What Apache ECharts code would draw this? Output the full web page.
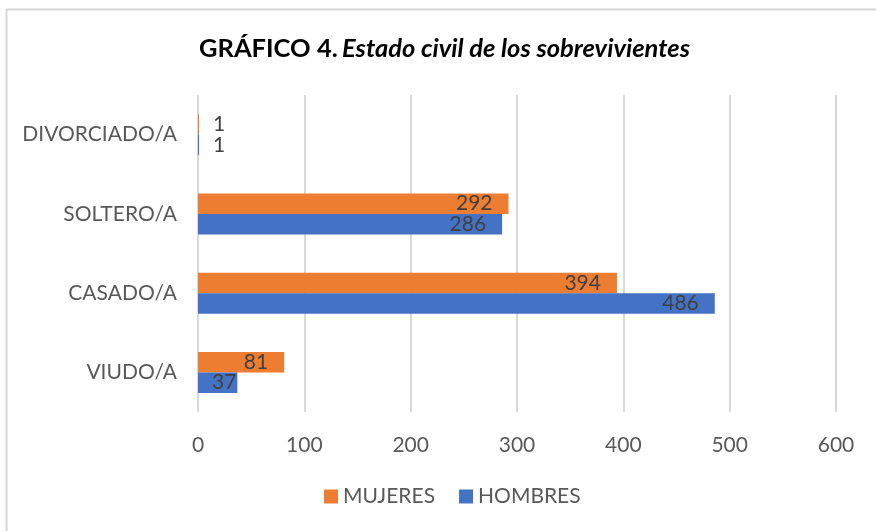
<!DOCTYPE html>
<html>
<head>
<meta charset="utf-8">
<script src="https://cdn.jsdelivr.net/npm/echarts@6/dist/echarts.min.js"></script>
<style>html,body{margin:0;padding:0;background:#fff}#c{width:876px;height:531px}</style>
</head>
<body>
<div id="c"></div>
<script>
var categories = ['VIUDO/A', 'CASADO/A', 'SOLTERO/A', 'DIVORCIADO/A'];
var mujeres = [81, 394, 292, 1];
var hombres = [37, 486, 286, 1];
var xTicks = [0, 100, 200, 300, 400, 500, 600];

var FONT = 'Lato, "Open Sans", sans-serif';
function mk(vals) {
  return vals.map(function (v) {
    if (v < 10) return { value: v, label: { position: 'right', distance: 14 } };
    if (v < 50) return { value: v, label: { position: 'insideRight', distance: 1 } };
    return v;
  });
}
var chart = echarts.init(document.getElementById('c'));
chart.setOption({
  animation: false,
  textStyle: { fontFamily: FONT },
  graphic: [{
    type: 'rect', shape: { x: 6.5, y: 9.5, width: 900, height: 600 },
    style: { fill: 'none', stroke: '#d9d9d9', lineWidth: 2 }, silent: true
  }],
  title: {
    text: '{a|GRÁFICO 4.} {b|Estado civil de los sobrevivientes}',
    left: 194, top: 31,
    textStyle: {
      rich: {
        a: { fontFamily: FONT, fontWeight: 'bold', fontSize: 25.5, color: '#000' },
        b: { fontFamily: FONT, fontWeight: 'bold', fontStyle: 'italic', fontSize: 25.5, color: '#000' }
      }
    }
  },
  legend: {
    data: ['MUJERES', 'HOMBRES'],
    bottom: 19, left: 319,
    icon: 'rect', itemWidth: 14, itemHeight: 14, itemGap: 24, itemStyle: { borderWidth: 0 },
    textStyle: { fontSize: 21, color: '#595959', fontFamily: FONT }
  },
  grid: { left: 198, right: 40, top: 95, bottom: 119, containLabel: false },
  xAxis: {
    type: 'value', min: xTicks[0], max: xTicks[xTicks.length - 1], interval: 100,
    axisLine: { show: false }, axisTick: { show: false },
    splitLine: { lineStyle: { color: '#d9d9d9', width: 2 } },
    axisLabel: { fontSize: 21, color: '#595959', margin: 23, fontFamily: FONT }
  },
  yAxis: {
    type: 'category', data: categories,
    axisLine: { show: false }, axisTick: { show: false },
    axisLabel: { fontSize: 21, color: '#595959', margin: 21, fontFamily: FONT }
  },
  series: [
    {
      name: 'MUJERES', type: 'bar', data: mk(mujeres), barWidth: 20.5, barGap: '0%',
      itemStyle: { color: '#ED7D31' },
      label: { show: true, position: 'insideRight', distance: 16, fontSize: 21, color: '#404040', fontFamily: FONT }
    },
    {
      name: 'HOMBRES', type: 'bar', data: mk(hombres), barWidth: 20.5, barGap: '0%',
      itemStyle: { color: '#4472C4' },
      label: { show: true, position: 'insideRight', distance: 16, fontSize: 21, color: '#404040', fontFamily: FONT }
    }
  ]
});
</script>
</body>
</html>
